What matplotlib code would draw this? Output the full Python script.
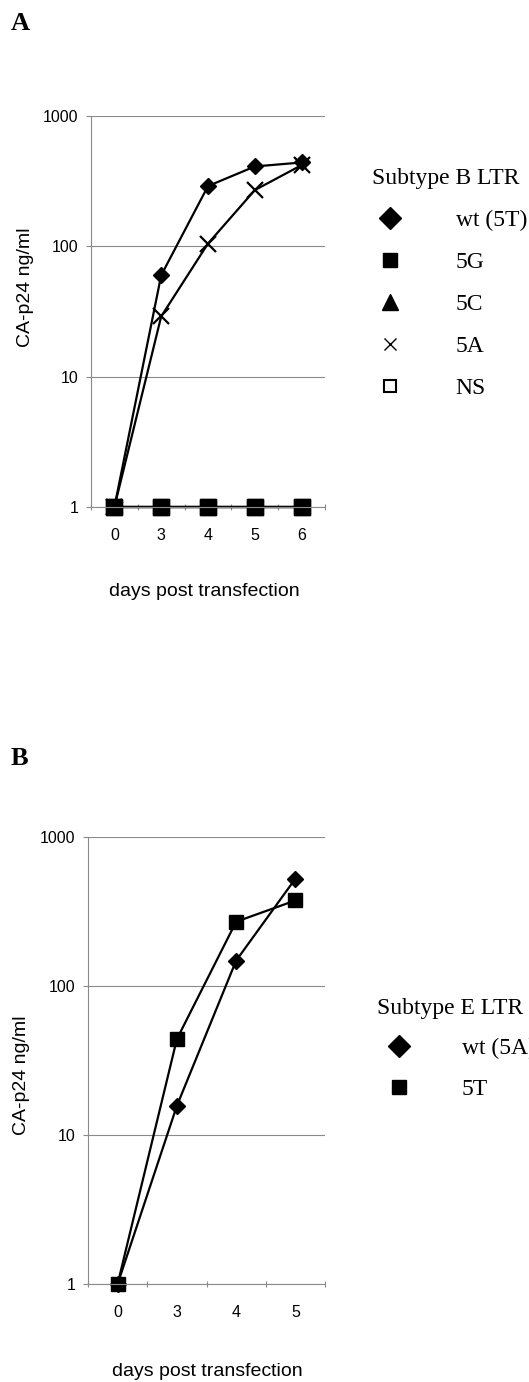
import numpy as np
import matplotlib

matplotlib.use("Agg")
import matplotlib.pyplot as plt
from matplotlib.lines import Line2D

plt.rcParams.update({
    "font.family": "Liberation Sans",
    "figure.facecolor": "white",
})

# panel A: subtype B LTR
days_a = ["0", "3", "4", "5", "6"]
wt_a = [1, 60, 290, 410, 440]
g5_a = [1, 1, 1, 1, 1]
c5_a = [1, 1, 1, 1, 1]
a5_a = [1, 29, 105, 270, 420]
ns_a = [1, 1, 1, 1, 1]

# panel B: subtype E LTR
days_b = ["0", "3", "4", "5"]
wt_b = [1, 15.7, 148, 525]
t5_b = [1, 44, 270, 375]

W, H = 529, 1382
GRID = "#8a8a8a"
SERIF = "Liberation Serif"


def px_axes(fig, left, right, top, bottom):
    return fig.add_axes([left / W, 1 - bottom / H, (right - left) / W, (bottom - top) / H])


def style(ax, cats):
    n = len(cats)
    ax.set_yscale("log")
    ax.set_ylim(1, 1000)
    ax.set_xlim(-0.5, n - 0.5)
    ax.set_yticks([1, 10, 100, 1000])
    ax.set_yticklabels(["1", "10", "100", "1000"])
    ax.yaxis.set_minor_locator(matplotlib.ticker.NullLocator())
    ax.set_xticks(np.arange(n + 1) - 0.5)
    ax.set_xticklabels([])
    ax.set_xticks(np.arange(n), minor=True)
    ax.set_xticklabels(cats, minor=True)
    ax.grid(axis="y", color=GRID, lw=0.8)
    for s in ("top", "right"):
        ax.spines[s].set_visible(False)
    for s in ("left", "bottom"):
        ax.spines[s].set_color(GRID)
        ax.spines[s].set_linewidth(0.8)
    ax.tick_params(axis="y", which="major", length=3.6, width=0.8, color=GRID,
                   pad=5.5, labelsize=11.5)
    ax.tick_params(axis="x", which="major", direction="inout", length=5, width=0.8,
                   color=GRID)
    ax.tick_params(axis="x", which="minor", length=0, pad=15, labelsize=11.5)


def marker(m, ms, **extra):
    return Line2D([], [], ls="none", color="black", marker=m, ms=ms, **extra)


fig = plt.figure(figsize=(W / 100, H / 100), dpi=100)
kw = dict(color="black", lw=1.6, clip_on=False)
legend_kw = dict(loc="upper left", frameon=False,
                 prop={"family": SERIF, "size": 17},
                 title_fontproperties={"family": SERIF, "size": 17},
                 borderpad=0, borderaxespad=0, alignment="left")

# ---- A
ax = px_axes(fig, 91, 325, 116, 507)
x = np.arange(len(days_a))
ax.plot(x, wt_a, marker="D", ms=8, **kw)
ax.plot(x, a5_a, marker="x", ms=12, mew=1.6, **kw)
ax.plot(x, c5_a, marker="^", ms=10, **kw)
ax.plot(x, ns_a, marker="s", ms=11, mfc="white", **kw)
ax.plot(x, g5_a, marker="s", ms=11, **kw)
style(ax, days_a)

fig.text(20 / W, 1 - 24 / H, "A", family=SERIF, weight="bold", fontsize=19,
         ha="center", va="center")
fig.text(25 / W, 1 - 287 / H, "CA-p24 ng/ml", rotation=90, fontsize=14,
         ha="center", va="center")
fig.text(204 / W, 1 - 592 / H, "days post transfection", fontsize=14,
         ha="center", va="center")

hA = [marker("D", 11), marker("s", 10), marker("^", 11),
      marker("x", 8, mew=1), marker("s", 9, mfc="white", mew=1.5)]
fig.legend(hA, ["wt (5T)", "5G", "5C", "5A", "NS"], title="Subtype B LTR",
           bbox_to_anchor=(372 / W, 1 - 168 / H),
           handlelength=1.5, handletextpad=2.05, labelspacing=0.87, **legend_kw)

# ---- B
ax = px_axes(fig, 88, 325, 837, 1284)
x = np.arange(len(days_b))
ax.plot(x, wt_b, marker="D", ms=8, **kw)
ax.plot(x, t5_b, marker="s", ms=10, **kw)
style(ax, days_b)

fig.text(19 / W, 1 - 758 / H, "B", family=SERIF, weight="bold", fontsize=19,
         ha="center", va="center")
fig.text(22 / W, 1 - 1075 / H, "CA-p24 ng/ml", rotation=90, fontsize=14,
         ha="center", va="center")
fig.text(207 / W, 1 - 1371 / H, "days post transfection", fontsize=14,
         ha="center", va="center")

# the reference is cropped on the right, so "wt (5A)" runs off the edge
hB = [marker("D", 11), marker("s", 10)]
fig.legend(hB, ["wt (5A)", "5T"], title="Subtype E LTR",
           bbox_to_anchor=(377 / W, 1 - 998 / H),
           handlelength=1.86, handletextpad=1.74, labelspacing=0.8, **legend_kw)

fig.savefig("out.png", dpi=100)
